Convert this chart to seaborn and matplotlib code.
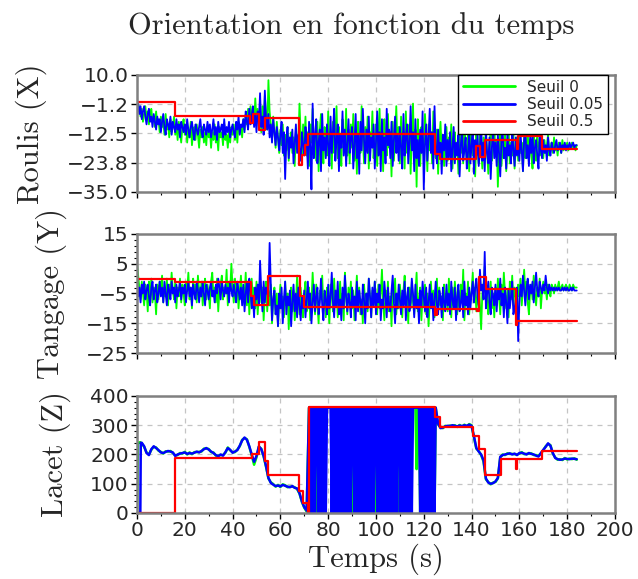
import matplotlib
matplotlib.use('Agg')
import matplotlib.pyplot as plt
import numpy as np
import seaborn as sns
from matplotlib.ticker import MultipleLocator, FixedLocator, FuncFormatter

# temps d'echantillonnage (s) pour roulis / tangage : une mesure toutes les 0.5 s
temps = np.arange(0, 184.5, 0.5)

# ---- Roulis (X) ----  (une ligne = 10 s)
roulis_seuil0 = [
    -1, -4, -2, -6, -3, -8, -5, -2, -7, -4, -9, -5, -3, -8, -6, -10, -4, -9, -7, -12,
    -6, -10, -8, -13, -5, -11, -9, -14, -7, -12, -10, -6, -13, -9, -15, -8, -12, -16, -10, -7,
    -13, -9, -16, -11, -14, -8, -17, -12, -10, -15, -9, -13, -18, -11, -14, -10, -16, -12, -17, -9,
    -14, -11, -18, -12, -15, -9, -16, -13, -19, -10, -14, -12, -17, -9, -15, -13, -18, -11, -16, -10,
    -13, -9, -15, -11, -16, -8, -12, -10, -14, -7, -11, -5, -9, -3, -8, -2, -6, -4, -9, 1,
    -7, -3, -10, -5, -12, -2, -8, 2, -6, -11, 8, -4, -9, -15, -6, -12, -18, -8, -14, -20,
    -11, -17, -9, -21, -13, -19, -10, -23, -15, -12, -20, -14, -25, -11, -18, -16, -1, -13, -22, -9,
    -17, -6, -21, -12, -25, -9, -16, -3, -19, -14, -23, -8, -27, -11, -5, -18, -24, -10, -15, -21,
    -4, -17, -12, -26, -8, -20, -14, -2, -22, -10, -16, -25, -7, -13, -19, -3, -21, -11, -24, -9,
    -18, -5, -23, -13, -28, -8, -16, -20, -2, -14, -24, -10, -19, -6, -26, -12, -17, -4, -22, -15,
    -9, -25, -13, -3, -20, -11, -27, -7, -16, -21, -5, -18, -12, -29, -8, -23, -14, -2, -19, -10,
    -24, -6, -17, -12, -26, -4, -20, -15, -9, -28, -13, -1, -22, -11, -33, -7, -18, -25, -10, -16,
    -21, -5, -14, -27, -9, -19, -12, -24, -4, -17, -22, -11, -28, -15, -8, -20, -13, -25, -18, -10,
    -23, -14, -19, -9, -26, -16, -12, -21, -17, -28, -11, -20, -15, -24, -8, -18, -22, -13, -27, -16,
    -10, -21, -17, -29, -13, -19, -24, -8, -18, -26, -14, -22, -11, -20, -28, -16, -12, -23, -19, -9,
    -21, -15, -33, -18, -11, -25, -17, -22, -13, -27, -19, -10, -24, -16, -21, -12, -26, -18, -14, -23,
    -9, -20, -16, -27, -13, -22, -18, -11, -24, -15, -20, -26, -12, -19, -23, -14, -17, -21, -13, -18,
    -22, -15, -20, -17, -13, -21, -18, -16, -20, -14, -19, -17, -21, -16, -18, -20, -15, -19, -17, -18,
    -16, -19, -17, -18, -16, -18, -17, -19, -17]
roulis_seuil005 = [
    -3, -1, -5, -2, -7, -4, -2, -6, -9, -5, -3, -8, -6, -10, -5, -8, -11, -6, -9, -7,
    -12, -8, -5, -10, -13, -7, -9, -11, -6, -13, -8, -10, -12, -7, -11, -9, -14, -8, -10, -12,
    -9, -13, -7, -11, -14, -10, -8, -12, -15, -9, -11, -13, -10, -7, -12, -14, -9, -11, -13, -8,
    -12, -9, -14, -11, -7, -13, -10, -15, -8, -12, -11, -9, -14, -7, -13, -10, -12, -8, -14, -11,
    -9, -12, -14, -8, -11, -6, -13, -9, -10, -7, -12, -4, -8, -11, -3, -9, -6, -2, -10, -5,
    -12, -4, -8, 3, -10, -6, -13, 4, -7, -11, -5, -14, -9, -16, -7, -12, -17, -10, -14, -19,
    -13, -8, -20, -12, -30, -15, -10, -22, -14, -18, -11, -24, -16, -9, -20, -13, -19, -23, -12, -17,
    -21, -10, -15, -26, -8, -18, -34, -1, -22, -13, -7, -24, -16, -11, -27, -5, -19, -14, -22, -9,
    -17, -25, -6, -20, -12, -3, -23, -15, -9, -27, -13, -18, -4, -21, -11, -25, -16, -7, -20, -14,
    -10, -26, -17, -5, -22, -13, -28, -8, -19, -3, -15, -24, -11, -20, -6, -23, -14, -18, -9, -26,
    -16, -4, -21, -12, -27, -7, -19, -14, -24, -3, -17, -11, -22, -8, -25, -15, -6, -20, -13, -23,
    -10, -18, -26, -5, -21, -14, -9, -24, -16, -2, -19, -12, -27, -7, -22, -15, -25, -11, -20, -4,
    -34, -17, -9, -23, -14, -3, -20, -12, -26, -2, -18, -24, -11, -21, -16, -28, -13, -19, -9, -25,
    -15, -22, -12, -27, -18, -10, -24, -16, -21, -13, -29, -17, -11, -23, -19, -14, -26, -20, -12, -24,
    -17, -10, -28, -15, -21, -13, -25, -18, -9, -23, -16, -27, -12, -20, -24, -14, -30, -18, -11, -22,
    -16, -25, -13, -20, -29, -15, -11, -22, -18, -26, -12, -21, -17, -24, -10, -19, -25, -14, -21, -16,
    -23, -13, -19, -27, -15, -11, -22, -17, -25, -14, -20, -12, -24, -18, -15, -21, -26, -13, -19, -22,
    -15, -20, -17, -23, -14, -19, -21, -16, -18, -20, -17, -15, -19, -18, -16, -20, -17, -18, -16, -19,
    -17, -18, -16, -18, -17, -16, -18, -17, -17]
roulis_seuil05_t = [0, 15.9, 47.3, 48.6, 51.2, 53.7, 67.8, 69.0, 70.2, 71.6,
                    124.7, 126.8, 141.7, 143.4, 145.6, 158.9, 159.6, 169.5, 184]
roulis_seuil05 = [-0.3, -5.8, -8.3, -5.0, -11.3, -6.6, -24.5, -20.8, -16.8, -12.7,
                  -20.3, -22.4, -17.2, -21.5, -15.1, -18.3, -13.6, -18.6, -18.6]

# ---- Tangage (Y) ----
tangage_seuil0 = [
    5, 1, -3, -7, -1, -5, -9, -2, -4, -11, -1, -6, 0, -8, -3, -5, -12, -2, -7, -1,
    -4, 1, -8, -3, -6, 0, -9, -2, -5, 2, -4, -7, -1, -10, -3, -6, 0, -8, -2, -5,
    -9, -1, -4, 2, -7, -3, -10, 0, -5, -2, -8, 1, -4, -6, -1, -9, -3, 0, -7, -2,
    -5, -10, -1, 2, -6, -3, -8, 0, -11, -4, -2, 1, -7, -3, -5, 3, -9, -1, -4, 5,
    -3, -8, 0, -5, -2, -10, -4, 1, -7, -3, -6, 2, -9, -1, -12, -4, 0, -7, -3, -10,
    -1, -12, -5, 0, -8, -3, -14, -6, -1, -11, -4, -9, -2, -15, -7, -3, -12, -5, -16, -8,
    -2, -10, -6, -13, -1, -9, -5, -17, -7, -3, -11, -4, -14, -8, 1, -6, -12, -3, -9, -13,
    -5, -1, -11, -7, -3, -14, -8, 2, -6, -12, -2, -9, -15, -4, -7, 1, -10, -5, -13, -3,
    -8, -15, -2, -6, -11, 0, -9, -4, -13, -7, -1, -10, -5, -14, 2, -6, -12, -3, -8, -1,
    -10, -4, -14, -6, 1, -9, -3, -12, -7, -15, -2, -8, -5, -11, 0, -6, -13, -4, -9, -1,
    -7, -12, -2, -10, -5, 3, -8, -14, -4, -9, -1, -11, -6, -16, -3, -8, 0, -12, -5, -10,
    -2, -7, -13, -4, 1, -9, -6, -15, -3, -10, -1, -8, -12, -5, 2, -11, -7, -3, -14, -6,
    -9, -2, -12, -5, -16, -8, -1, -10, -4, -13, -7, 0, -11, -3, -9, -6, -14, -2, -8, -5,
    -11, 0, -7, -13, -3, -9, -1, -6, -12, -4, -10, -2, -8, 3, -14, -5, -9, -1, -12, -6,
    -4, 2, -8, -3, -11, -6, -1, -9, -17, -5, -2, 4, -7, -3, -12, -8, -1, -10, -5, -13,
    -3, -9, 0, -6, -12, -2, -8, 2, -5, -10, -4, -13, -1, -7, 1, -9, -3, -6, -11, -2,
    -6, 0, -9, -3, 3, -5, -1, -8, -12, -4, -2, -7, 1, -5, -9, -3, -6, 0, -10, -4,
    -1, -5, -3, -7, -2, -4, -6, -2, -3, -5, -2, -4, -3, -1, -4, -3, -2, -4, -3, -2,
    -3, -4, -2, -3, -4, -2, -3, -3, -3]
tangage_seuil005 = [
    -1, -6, -3, -8, -2, -5, -1, -7, -4, -2, -6, -9, -3, -1, -7, -4, -2, -8, -5, -1,
    -6, -3, -8, -1, -5, -9, -2, -4, -7, -1, -5, -3, -8, -2, -6, -4, -1, -7, -3, -5,
    -2, -8, -4, -1, -6, -3, -9, -2, -5, -7, -1, -4, -8, -3, -6, -1, -5, -9, -2, -4,
    -7, -3, -1, -6, -4, -8, -2, -5, 0, -3, -7, -1, -4, -6, -2, -5, -3, -8, -1, -4,
    -6, -2, -5, -8, -1, -4, -7, -3, -9, -2, -11, -5, -1, -8, 0, -4, -10, -6, -13, -3,
    -7, -2, -9, 6, -4, -11, -1, -8, -3, -5, -6, 12, -2, -14, -7, -4, -12, -9, -16, -5,
    -10, -3, -15, -7, -1, -12, -6, -9, -4, -16, -8, -2, -11, -5, -13, -3, -9, -14, -6, -10,
    -4, -13, -7, -1, -10, -5, -15, -8, -2, -11, -6, -3, -12, -8, 0, -9, -14, -4, -7, -12,
    -2, -10, -6, 2, -8, -13, -4, -9, -1, -12, -7, -14, -3, -10, 1, -6, -11, -5, -8, -13,
    -3, -9, -6, -14, -1, -11, -4, -8, -12, -2, -7, -15, -5, -10, 0, -6, -13, -3, -9, -1,
    -12, -5, -8, -2, -14, -7, -10, -1, -6, -13, -3, -9, -11, -4, 1, -8, -15, -5, -10, -2,
    -7, -12, -4, -9, -1, -14, -6, -3, -11, -8, 0, -5, -13, -2, -10, -7, -15, -4, -9, -1,
    -6, -11, -3, -13, -8, -2, -10, -5, -14, -7, -1, -9, -12, -4, -6, -13, -3, -8, -11, -2,
    -9, -5, -12, -1, -7, -10, -3, -14, -6, -2, -11, -8, -4, -13, -1, -9, -6, -12, -3, -10,
    -5, -1, -8, -3, 0, -6, -9, 3, -4, -2, -7, 9, -10, -5, -1, -8, -12, -3, -6, -9,
    -2, -11, -4, -7, 0, -9, -5, -13, -3, -8, -15, -4, -10, -6, -1, -12, -10, -7, -3, -21,
    -8, -2, -6, 1, -4, -9, -3, 0, -7, -2, -5, -1, -8, -3, 2, -4, -6, -1, -3, -5,
    -2, -4, 1, -3, -5, -2, -4, -3, -4, -3, -4, -3, -4, -3, -4, -4, -3, -4, -3, -4,
    -3, -4, -4, -3, -4, -3, -4, -4, -4]
tangage_seuil05_t = [0, 15.9, 47.7, 49.0, 54.7, 68.2, 69.8, 124.7, 125.5, 142.1,
                     143.2, 145.9, 158.5, 159.2, 184]
tangage_seuil05 = [-0.1, -1.2, -6.0, -8.9, 1.0, -5.8, -9.7, -12.2, -10.3, -11.0,
                   0.7, -3.6, -15.7, -14.1, -14.1]

# ---- Lacet (Z) ----
temps_lacet = np.concatenate([[0, 0.4, 1.4, 1.6], np.arange(2, 72),
                              np.arange(72, 125.5, 0.5), np.arange(126, 185)])
lacet_vert_debut = [0, 240, 242, 238]
lacet_bleu_debut = [0, 0, 0, 240]
lacet_vert_lent = [
    238, 226, 207, 200, 216, 226, 224, 213, 209, 203,
    211, 210, 212, 205, 197, 198, 205, 203, 209, 200,
    207, 201, 208, 208, 209, 210, 220, 220, 219, 208,
    207, 196, 196, 198, 198, 206, 224, 214, 208, 208,
    217, 228, 250, 256, 252, 226, 198, 165, 190, 226,
    220, 193, 158, 118, 105, 99, 90, 96, 89, 98,
    95, 88, 90, 90, 88, 82, 66, 38, 18, 5]
lacet_bleu_lent = [
    240, 228, 205, 198, 218, 228, 222, 215, 207, 205,
    209, 212, 210, 207, 195, 200, 203, 205, 207, 202,
    205, 203, 206, 210, 207, 212, 218, 222, 217, 210,
    205, 198, 194, 200, 196, 208, 222, 216, 206, 210,
    215, 230, 248, 258, 250, 228, 200, 175, 195, 228,
    218, 195, 160, 120, 103, 97, 92, 94, 91, 96,
    93, 90, 88, 92, 86, 84, 68, 40, 20, 8]
# sauts 0 <-> 360 entre 72 et 125 s (une mesure toutes les 0.5 s)
lacet_vert_sauts = [
    360, 360, 0, 360, 0, 360, 360, 0, 360, 0,
    360, 0, 360, 0, 360, 360, 360, 360, 360, 360,
    0, 360, 0, 360, 0, 360, 0, 360, 0, 360,
    0, 360, 0, 360, 0, 360, 360, 0, 360, 0,
    360, 0, 360, 0, 360, 0, 360, 0, 360, 0,
    360, 0, 360, 0, 360, 360, 0, 360, 0, 360,
    0, 360, 0, 360, 0, 360, 0, 360, 0, 360,
    0, 360, 0, 360, 360, 0, 360, 0, 360, 0,
    360, 0, 360, 0, 360, 0, 360, 360, 360, 360,
    150, 360, 360, 0, 360, 0, 360, 0, 360, 0,
    360, 0, 360, 0, 360, 0, 360]
lacet_bleu_sauts = [
    360, 0, 360, 0, 360, 0, 360, 360, 0, 360,
    0, 360, 0, 360, 0, 360, 360, 360, 360, 0,
    360, 0, 360, 0, 360, 0, 360, 0, 360, 0,
    360, 0, 360, 0, 360, 0, 360, 360, 0, 360,
    0, 360, 0, 360, 0, 360, 0, 360, 0, 360,
    0, 360, 0, 360, 0, 360, 360, 0, 360, 0,
    360, 0, 360, 0, 360, 0, 360, 0, 360, 0,
    360, 0, 360, 0, 360, 360, 0, 360, 0, 360,
    0, 360, 0, 360, 0, 360, 0, 360, 360, 360,
    360, 360, 360, 0, 360, 0, 360, 0, 360, 0,
    360, 0, 360, 0, 360, 0, 360]
lacet_vert_fin = [
    303, 292, 290, 298, 296, 299, 298, 300, 294, 301,
    295, 302, 296, 304, 300, 258, 220, 212, 198, 176,
    115, 106, 98, 104, 106, 118, 190, 200, 198, 204,
    202, 202, 201, 200, 203, 208, 201, 202, 203, 204,
    198, 198, 195, 203, 214, 228, 236, 232, 203, 190,
    182, 184, 181, 188, 183, 186, 184, 187, 182]
lacet_bleu_fin = [
    305, 290, 292, 296, 298, 297, 300, 298, 296, 299,
    297, 300, 298, 302, 298, 262, 222, 210, 200, 180,
    118, 104, 100, 102, 108, 120, 192, 198, 200, 202,
    204, 200, 203, 198, 205, 206, 203, 200, 205, 202,
    200, 196, 193, 205, 216, 226, 238, 230, 205, 188,
    184, 182, 183, 186, 185, 184, 186, 185, 184]
lacet_seuil0 = lacet_vert_debut + lacet_vert_lent + lacet_vert_sauts + lacet_vert_fin
lacet_seuil005 = lacet_bleu_debut + lacet_bleu_lent + lacet_bleu_sauts + lacet_bleu_fin
lacet_seuil05_t = [0, 15.9, 48.2, 51.0, 53.6, 55.0, 67.8, 69.6, 71.4, 72.0,
                   124.7, 126.8, 140.8, 143.2, 145.7, 152.2, 158.6, 159.2, 169.6, 184]
lacet_seuil05 = [0, 187, 202, 242, 177, 131, 74, 34, 0, 361,
                 328, 293, 262, 219, 129, 185, 150, 185, 213, 213]

sns.set_style('ticks')
plt.rcParams['font.family'] = ['DejaVu Sans']
plt.rcParams['path.simplify'] = False  # garder tous les allers-retours du signal

fig = plt.figure(figsize=(6.38, 5.79), dpi=100)
cadres = [[0.2147, 0.6684, 0.7492, 0.2021],
          [0.2147, 0.3903, 0.7492, 0.2056],
          [0.2147, 0.1140, 0.7492, 0.2021]]
axes = [fig.add_axes(c) for c in cadres]

panneaux = [
    ('Roulis (X)', temps, roulis_seuil0, temps, roulis_seuil005, roulis_seuil05_t, roulis_seuil05),
    ('Tangage (Y)', temps, tangage_seuil0, temps, tangage_seuil005, tangage_seuil05_t, tangage_seuil05),
    ('Lacet (Z)', temps_lacet, lacet_seuil0, temps_lacet, lacet_seuil005, lacet_seuil05_t, lacet_seuil05),
]
epaisseurs = [1.3, 1.3, 1.8]

moins = FuncFormatter(lambda v, p: f'{v:.1f}'.replace('-', '\u2212'))

for i, (nom, t0, v0, t1, v1, t2, v2) in enumerate(panneaux):
    ax = axes[i]
    lw = epaisseurs[i]
    sns.lineplot(x=t0, y=v0, ax=ax, color='#00ff00', lw=lw, estimator=None, sort=False, label='Seuil 0')
    sns.lineplot(x=t1, y=v1, ax=ax, color='#0000ff', lw=lw, estimator=None, sort=False, label='Seuil 0.05')
    sns.lineplot(x=t2, y=v2, ax=ax, color='#ff0000', lw=1.6, estimator=None, sort=False,
                 drawstyle='steps-post', label='Seuil 0.5')

    ax.set_xlim(0, 200)
    ax.xaxis.set_major_locator(MultipleLocator(20))
    ax.xaxis.set_minor_locator(MultipleLocator(10))
    if i == 0:
        ax.set_ylim(-35, 10)
        ax.yaxis.set_major_locator(FixedLocator(np.linspace(-35, 10, 5)))
        ax.yaxis.set_major_formatter(moins)
    elif i == 1:
        ax.set_ylim(-25, 15)
        ax.set_yticks([-25, -15, -5, 5, 15])
        ax.yaxis.set_minor_locator(MultipleLocator(2, offset=1))
    else:
        ax.set_ylim(0, 400)
        ax.yaxis.set_major_locator(MultipleLocator(100))
        ax.yaxis.set_minor_locator(MultipleLocator(20))

    ax.set_axisbelow(True)
    ax.grid(True, which='major', color='#c4c4c4', linestyle=(0, (4, 4)), linewidth=0.9)
    for s in ax.spines.values():
        s.set_color('#808080')
        s.set_linewidth(1.8)
    ax.tick_params(which='major', direction='out', length=4, width=1, color='black',
                   labelsize=14.5, pad=2)
    ax.tick_params(which='minor', direction='out', length=2.5, width=0.8, color='black')
    if i < 2:
        ax.tick_params(labelbottom=False)
    ax.set_xlabel('')
    ax.set_ylabel(nom, fontfamily='cmr10', fontsize=22, labelpad=14)

    if i == 0:
        ax.legend(loc='upper right', bbox_to_anchor=(0.985, 1.0), borderaxespad=0,
                  frameon=True, fancybox=False, edgecolor='black', framealpha=1,
                  fontsize=11, handlelength=3.4, handletextpad=0.8, labelspacing=0.15,
                  borderpad=0.3)
        ax.get_legend().get_frame().set_linewidth(1.0)
        for h in ax.get_legend().get_lines():
            h.set_linewidth(2)
    else:
        ax.get_legend().remove()

axes[2].set_xlabel('Temps (s)', fontfamily='cmr10', fontsize=22, labelpad=2)
fig.text(0.55, 0.955, 'Orientation en fonction du temps', fontfamily='cmr10',
         fontsize=22, ha='center', va='center')

fig.savefig('out.png', dpi=100, facecolor='white')
